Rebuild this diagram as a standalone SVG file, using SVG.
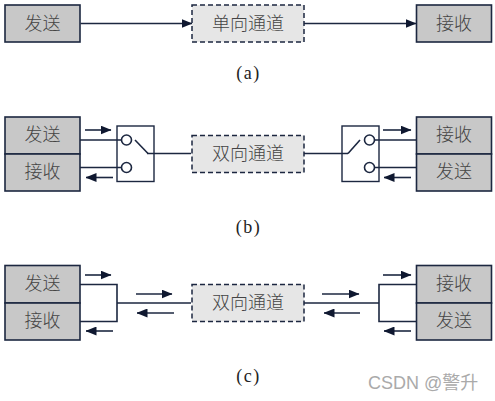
<svg xmlns="http://www.w3.org/2000/svg" width="495" height="401" viewBox="0 0 495 401">
<defs>
<style>
.box{fill:#c8c8c8;stroke:#1c2740;stroke-width:1.6}
.ch{fill:#e6e6e6;stroke:#1c2740;stroke-width:1.5;stroke-dasharray:5 3}
.t{font-family:"Noto Sans CJK SC",serif;font-size:18px;fill:#444;text-anchor:middle;font-weight:300}
.c{font-family:"Liberation Serif",serif;font-size:18px;fill:#222;text-anchor:middle;letter-spacing:1.5px}
.l{fill:none;stroke:#1c2740;stroke-width:1.6}
.sw{fill:none;stroke:#1c2740;stroke-width:1.4}
.o{fill:#fff;stroke:#1c2740;stroke-width:1.6}
.wm{font-family:"Liberation Sans","Noto Sans CJK SC",sans-serif;font-size:18px;fill:#aaa}
</style>
<marker id="a" viewBox="0 0 11 9" refX="10.500" refY="4.500" markerWidth="11" markerHeight="9" markerUnits="userSpaceOnUse" orient="auto"><path d="M0 0L11 4.500L0 9z" fill="#0f1830"/></marker>
</defs>
<rect width="495" height="401" fill="#fff"/>
<g id="connectors">
<path class="l" d="M80.500 23.500H192" marker-end="url(#a)"/>
<path class="l" d="M304 23.500H416" marker-end="url(#a)"/>
<path class="l" d="M80 140H122M80 167.500H122M147 153.500H191M304 153.500H348M374 140H416M374 167.500H416"/>
<path class="l" d="M85 130H111" marker-end="url(#a)"/>
<path class="l" d="M113 177.500H86" marker-end="url(#a)"/>
<path class="l" d="M383 130H411" marker-end="url(#a)"/>
<path class="l" d="M411 177.500H384" marker-end="url(#a)"/>
<path class="l" d="M80 284.500H117V321.500H80M117 303H191M304 303H379M416 284.500H379V321.500H416"/>
<path class="l" d="M85 275H111" marker-end="url(#a)"/>
<path class="l" d="M113 331H86" marker-end="url(#a)"/>
<path class="l" d="M136 294H172" marker-end="url(#a)"/>
<path class="l" d="M174 313H137" marker-end="url(#a)"/>
<path class="l" d="M322 294H359" marker-end="url(#a)"/>
<path class="l" d="M360 313H324" marker-end="url(#a)"/>
<path class="l" d="M383 275H411" marker-end="url(#a)"/>
<path class="l" d="M411 331H384" marker-end="url(#a)"/>
</g>
<g id="a-send"><rect class="box" x="5" y="5" width="75" height="37"/><text class="t" x="42.500" y="30">发送</text></g>
<g id="a-channel"><rect class="ch" x="192" y="5" width="112" height="37"/><text class="t" x="248" y="30">单向通道</text></g>
<g id="a-recv"><rect class="box" x="416.500" y="5" width="75" height="37"/><text class="t" x="454" y="30">接收</text></g>
<text id="label-a" class="c" x="248.500" y="79">(a)</text>
<g id="b-send"><rect class="box" x="5" y="117" width="75" height="37"/><text class="t" x="42.500" y="141">发送</text></g>
<g id="b-recv"><rect class="box" x="5" y="154" width="75" height="37"/><text class="t" x="42.500" y="178">接收</text></g>
<g id="b-switch-l"><rect class="sw" x="117" y="126" width="37" height="55.500"/><path class="l" d="M135 140L148 153.500"/><circle class="o" cx="126.500" cy="140" r="5"/><circle class="o" cx="126.500" cy="167.500" r="5"/></g>
<g id="b-channel"><rect class="ch" x="192" y="135.500" width="112" height="37"/><text class="t" x="248" y="160">双向通道</text></g>
<g id="b-switch-r"><rect class="sw" x="342" y="126" width="37" height="55.500"/><path class="l" d="M360 140L348 153.500"/><circle class="o" cx="369.500" cy="140" r="5"/><circle class="o" cx="369.500" cy="167.500" r="5"/></g>
<g id="b-recv-r"><rect class="box" x="416.500" y="117" width="75" height="37"/><text class="t" x="454" y="141">接收</text></g>
<g id="b-send-r"><rect class="box" x="416.500" y="154" width="75" height="37"/><text class="t" x="454" y="178">发送</text></g>
<text id="label-b" class="c" x="248.500" y="233">(b)</text>
<g id="c-send"><rect class="box" x="5" y="265.500" width="75" height="37.500"/><text class="t" x="42.500" y="290">发送</text></g>
<g id="c-recv"><rect class="box" x="5" y="303" width="75" height="37"/><text class="t" x="42.500" y="327">接收</text></g>
<g id="c-channel"><rect class="ch" x="192" y="284.500" width="112" height="37"/><text class="t" x="248" y="309">双向通道</text></g>
<g id="c-recv-r"><rect class="box" x="416.500" y="265.500" width="75" height="37.500"/><text class="t" x="454" y="290">接收</text></g>
<g id="c-send-r"><rect class="box" x="416.500" y="303" width="75" height="37"/><text class="t" x="454" y="327">发送</text></g>
<text id="label-c" class="c" x="248.500" y="382">(c)</text>
<text id="watermark" class="wm" x="368" y="389">CSDN @警升</text>
</svg>
